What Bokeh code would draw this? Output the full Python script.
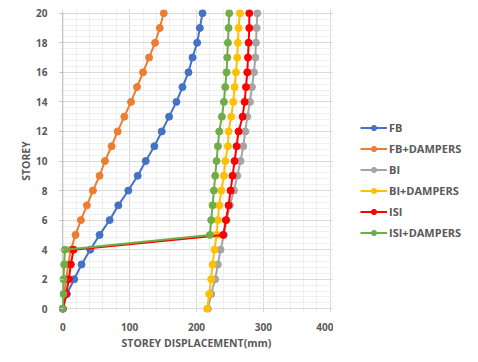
from bokeh.plotting import figure
from bokeh.layouts import row
from bokeh.models import Range1d, SingleIntervalTicker, Legend, LegendItem
from bokeh.embed import file_html
from bokeh.resources import INLINE

storeys = list(range(0, 21))
series_names = ["FB", "FB+DAMPERS", "BI", "BI+DAMPERS", "ISI", "ISI+DAMPERS"]
fb = [0, 6, 17, 28, 41, 55, 70, 83, 98, 112, 124, 137, 148, 159, 170, 179, 188, 194, 201, 205, 209]
fb_dampers = [0, 2, 5, 8, 12, 19, 27, 36, 45, 55, 63, 73, 82, 92, 102, 111, 120, 129, 138, 145, 151]
bi = [217, 222, 228, 232, 236, 241, 245, 250, 256, 261, 266, 270, 273, 276, 280, 283, 286, 288, 289, 290, 291]
bi_dampers = [216, 219, 222, 224, 227, 230, 232, 234, 237, 241, 243, 247, 248, 252, 255, 257, 259, 261, 262, 263, 265]
isi = [0, 5, 9, 12, 16, 240, 244, 248, 251, 254, 257, 260, 263, 269, 272, 274, 276, 277, 278, 279, 279]
isi_dampers = [0, 1, 1, 2, 3, 220, 222, 224, 226, 228, 230, 232, 234, 238, 241, 243, 245, 246, 247, 248, 249]

colors = ["#4472C4", "#ED7D31", "#A5A5A5", "#FFC000", "#FF0000", "#70AD47"]
data = [fb, fb_dampers, bi, bi_dampers, isi, isi_dampers]

TXT = "#595959"
FONT = "Open Sans"

p = figure(frame_width=274, frame_height=303, output_backend="svg", toolbar_location=None,
           x_range=Range1d(-5, 405), y_range=Range1d(-0.25, 20.25),
           min_border_left=59, min_border_right=0, min_border_top=9, min_border_bottom=34)
p.outline_line_color = None

p.xaxis.ticker = SingleIntervalTicker(interval=100, num_minor_ticks=5)
p.yaxis.ticker = SingleIntervalTicker(interval=2, num_minor_ticks=5)
p.xgrid.ticker = p.xaxis.ticker
p.ygrid.ticker = p.yaxis.ticker

for g in (p.xgrid, p.ygrid):
    g.grid_line_color = "#D9D9D9"
    g.grid_line_width = 1
    g.minor_grid_line_color = "#EFEFEF"
    g.minor_grid_line_width = 1

for ax in (p.xaxis, p.yaxis):
    ax.axis_line_color = None
    ax.minor_tick_line_color = None
    ax.major_label_text_font = FONT
    ax.major_label_text_font_style = "bold"
    ax.major_label_text_font_size = "10px"
    ax.major_label_text_color = TXT
    ax.axis_label_text_font = FONT
    ax.axis_label_text_font_style = "bold"
    ax.axis_label_text_font_size = "10.5px"
    ax.axis_label_text_color = TXT

p.xaxis.major_tick_line_color = None
p.xaxis.major_label_standoff = 4
p.xaxis.axis_label = "STOREY DISPLACEMENT(mm)"
p.xaxis.axis_label_standoff = 2

p.yaxis.major_tick_line_color = "#BFBFBF"
p.yaxis.major_tick_in = 4
p.yaxis.major_tick_out = 0
p.yaxis.major_label_standoff = 8
p.yaxis.axis_label = "STOREY"
p.yaxis.axis_label_standoff = 0

# vertical value axis line at x = 0
p.segment(x0=[0], y0=[0], x1=[0], y1=[20], line_color="#BFBFBF", line_width=1)

for vals, c in zip(data, colors):
    p.line(vals, storeys, line_color=c, line_width=2)
    p.scatter(vals, storeys, size=7, fill_color=c, line_color=c)

# separate panel holding the legend
lf = figure(width=129, height=346, output_backend="svg", toolbar_location=None,
            x_range=p.x_range, y_range=p.y_range, x_axis_type=None, y_axis_type=None,
            min_border=0)
lf.outline_line_color = None
lf.grid.visible = False

items = []
for name, vals, c in zip(series_names, data, colors):
    r1 = lf.line(vals, storeys, line_color=c, line_width=2, visible=False)
    r2 = lf.scatter(vals, storeys, size=7, fill_color=c, line_color=c, visible=False)
    items.append(LegendItem(label=name, renderers=[r1, r2]))

legend = Legend(items=items, location=(27, 66))
legend.border_line_color = None
legend.background_fill_alpha = 0
legend.padding = 0
legend.margin = 0
legend.spacing = 6
legend.glyph_width = 27
legend.glyph_height = 13
legend.label_height = 13
legend.label_standoff = 2
legend.label_text_font = FONT
legend.label_text_font_style = "bold"
legend.label_text_font_size = "11px"
legend.label_text_color = TXT
lf.add_layout(legend, "center")

layout = row(p, lf, spacing=0)
open("out.html", "w").write(file_html(layout, INLINE))
